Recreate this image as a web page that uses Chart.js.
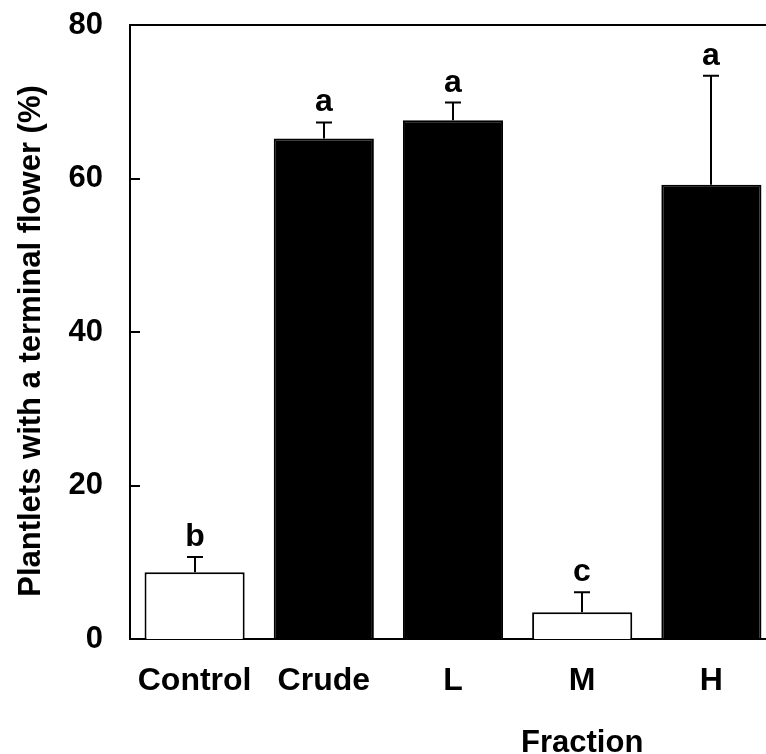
<!DOCTYPE html>
<html>
<head>
<meta charset="utf-8">
<script src="https://cdn.jsdelivr.net/npm/chart.js@4.4.0/dist/chart.umd.min.js"></script>
<style>
html, body { margin: 0; padding: 0; overflow: hidden; background: #fff; }
#wrap { width: 800px; height: 754px; }
</style>
</head>
<body>
<div id="wrap"><canvas id="myChart"></canvas></div>
<script>
// terminal flower formation per fraction, mean + SE, with significance groups
const fractions = ['Control', 'Crude', 'L', 'M', 'H'];
const flowering = [8.7, 65.2, 67.6, 3.5, 59.2];
const errors = [2.0, 2.1, 2.3, 2.6, 14.2];
const groups = ['b', 'a', 'a', 'c', 'a'];
const openBars = ['Control', 'M'];
const yTicks = [0, 20, 40, 60, 80];

const FONT = '"Liberation Sans", Arial, Helvetica, sans-serif';

const extras = {
    id: 'extras',
    afterDatasetsDraw(chart) {
        const { ctx, chartArea, scales: { x, y } } = chart;
        ctx.save();
        ctx.strokeStyle = '#000';
        ctx.fillStyle = '#000';
        ctx.lineWidth = 2;

        // top frame line
        ctx.beginPath();
        ctx.moveTo(chartArea.left, chartArea.top);
        ctx.lineTo(chartArea.right, chartArea.top);
        ctx.stroke();

        // tick marks pointing into the plot
        yTicks.forEach(t => {
            const py = Math.round(y.getPixelForValue(t));
            ctx.beginPath();
            ctx.moveTo(chartArea.left, py);
            ctx.lineTo(chartArea.left + 10, py);
            ctx.stroke();
        });

        // upper error bars and group letters
        ctx.font = 'bold 32px ' + FONT;
        ctx.textAlign = 'center';
        ctx.textBaseline = 'alphabetic';
        flowering.forEach((v, i) => {
            const px = Math.round(x.getPixelForValue(i));
            const top = y.getPixelForValue(v);
            const cap = y.getPixelForValue(v + errors[i]);
            ctx.beginPath();
            ctx.moveTo(px, top);
            ctx.lineTo(px, cap);
            ctx.moveTo(px - 8, cap);
            ctx.lineTo(px + 8, cap);
            ctx.stroke();
            ctx.fillText(groups[i], px, cap - 11);
        });

        // axis titles
        ctx.font = 'bold 31px ' + FONT;
        ctx.fillText('Fraction', x.getPixelForValue(3), 752);
        ctx.translate(40, (chartArea.top + chartArea.bottom) / 2 + 9);
        ctx.rotate(-Math.PI / 2);
        ctx.fillText('Plantlets with a terminal flower (%)', 0, 0);
        ctx.restore();
    }
};

var ctx = document.getElementById('myChart');
var myChart = new Chart(ctx, {
    type: 'bar',
    data: {
        labels: fractions,
        datasets: [{
            data: flowering,
            backgroundColor: fractions.map(f => openBars.includes(f) ? '#ffffff' : '#000000'),
            borderColor: '#000000',
            borderWidth: 2,
            barPercentage: 0.775,
            categoryPercentage: 1.0
        }]
    },
    options: {
        animation: false,
        responsive: true,
        maintainAspectRatio: false,
        layout: { padding: { top: 25, right: 24, left: 0, bottom: 0 } },
        plugins: {
            legend: { display: false },
            tooltip: { enabled: false }
        },
        scales: {
            x: {
                grid: { display: false, drawTicks: false },
                border: { display: true, color: '#000', width: 2 },
                ticks: {
                    color: '#000',
                    padding: 23,
                    font: { family: FONT, size: 32, weight: 'bold' }
                },
                afterFit(scale) {
                    scale.height = 115;
                    scale.paddingLeft = 0;
                    scale.paddingRight = 0;
                }
            },
            y: {
                min: 0,
                max: 80,
                afterBuildTicks(scale) { scale.ticks = yTicks.map(v => ({ value: v })); },
                grid: { display: false, drawTicks: false },
                border: { display: true, color: '#000', width: 2 },
                ticks: {
                    color: '#000',
                    padding: 27,
                    font: { family: FONT, size: 31, weight: 'bold' }
                },
                afterFit(scale) {
                    scale.width = 130;
                    scale.paddingTop = 0;
                    scale.paddingBottom = 0;
                }
            }
        }
    },
    plugins: [extras]
});
</script>
</body>
</html>
